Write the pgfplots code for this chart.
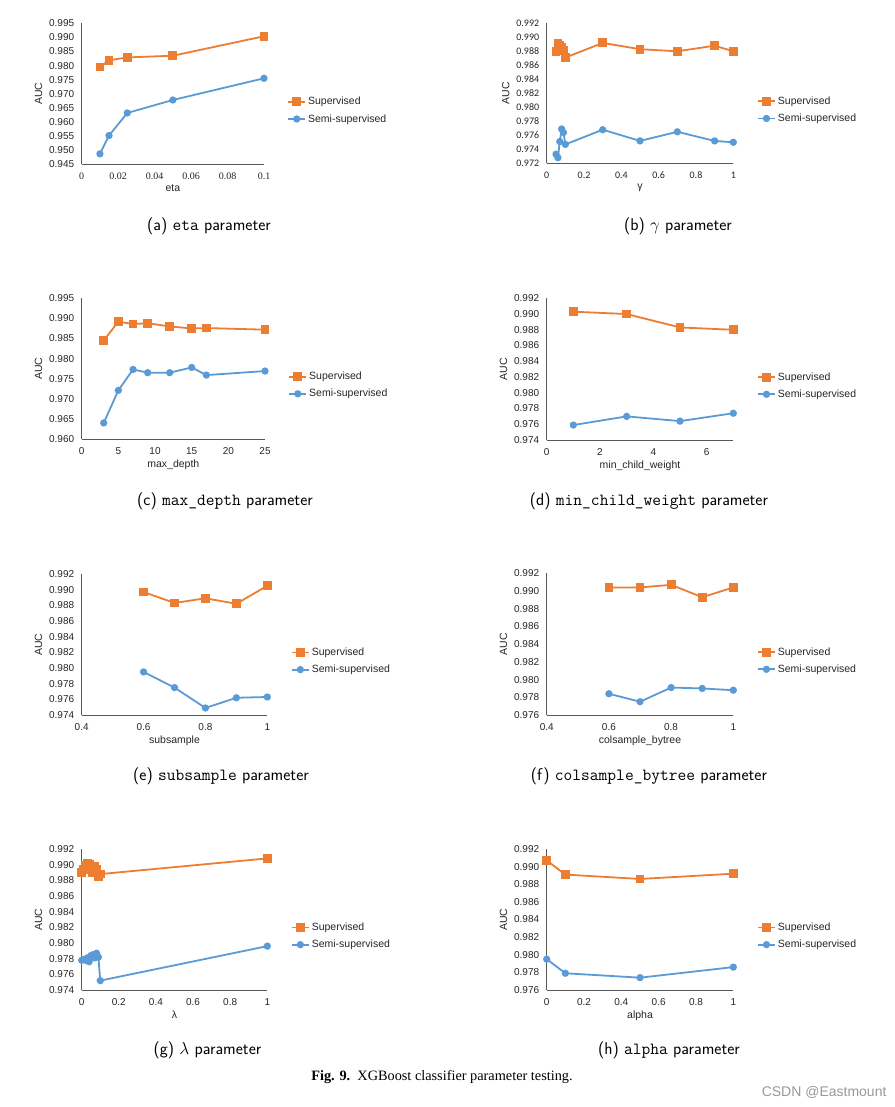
\documentclass[border=0pt]{standalone}
\usepackage{fontspec}
\setmainfont{Liberation Sans}
\newfontfamily\carlito{Carlito}
\newfontfamily\libserif{Liberation Serif}
\usepackage{pgfplots}
\pgfplotsset{compat=1.18}
\definecolor{sup}{HTML}{ED7D31}
\definecolor{semi}{HTML}{5B9BD5}
\definecolor{axgray}{HTML}{595959}
\pgfplotsset{
  panel/.style={
    scale only axis,
    axis x line*=bottom, axis y line*=left,
    axis line style={draw=axgray, line width=0.8pt},
    major tick length=0pt,
    tick style={draw=none},
    /pgf/number format/assume math mode=true,
    ticklabel style={font=\fontsize{10}{12}\selectfont, text=black!85},
    yticklabel style={xshift=-4pt},
    xticklabel style={yshift=-5pt},
    xlabel style={font=\fontsize{10.5}{12}\selectfont, text=black!85, yshift=2pt},
    ylabel style={font=\fontsize{10.5}{12}\selectfont, text=black!85},
    ylabel={AUC},
    legend style={draw=none, fill=none, font=\fontsize{10.5}{12}\selectfont, at={(1.11,0.505)}, anchor=north west, row sep=4pt, text=black!85},
    legend cell align=left,
    clip=false,
  },
  supp/.style={color=sup, line width=1.8pt, mark=square*, mark size=3.5pt, mark options={solid}},
  semp/.style={color=semi, line width=1.8pt, mark=*, mark size=2.7pt, mark options={solid}},
}
\begin{document}
\begin{tikzpicture}
\useasboundingbox (0,0) rectangle (894pt,-1107pt);
\fill[white] (0,0) rectangle (894pt,-1107pt);
% (a) eta
\begin{axis}[panel, at={(81.7pt,-164.3pt)}, anchor=south west, width=182.3pt, height=141pt,
  xmin=0, xmax=0.1, ymin=0.945, ymax=0.995,
  xtick={0,0.02,0.04,0.06,0.08,0.1}, xticklabels={0,0.02,0.04,0.06,0.08,0.1},
  xticklabel style={font=\libserif\fontsize{10}{12}\selectfont},
  ytick={0.945,0.95,0.955,0.96,0.965,0.97,0.975,0.98,0.985,0.99,0.995},
  yticklabels={0.945,0.950,0.955,0.960,0.965,0.970,0.975,0.980,0.985,0.990,0.995},
  xlabel={eta}]
\addplot[supp] coordinates {(0.01,0.9795)(0.015,0.9819)(0.025,0.9829)(0.05,0.9835)(0.1,0.9904)};
\addplot[semp] coordinates {(0.01,0.9487)(0.015,0.9552)(0.025,0.9632)(0.05,0.9678)(0.1,0.9755)};
\legend{Supervised,Semi-supervised}
\end{axis}
% (b) gamma
\begin{axis}[panel, at={(546.7pt,-163.3pt)}, anchor=south west, width=186.6pt, height=140pt,
  xmin=0, xmax=1, ymin=0.972, ymax=0.992,
  ticklabel style={font=\carlito\fontsize{10}{12}\selectfont},
  xtick={0,0.2,0.4,0.6,0.8,1}, xticklabels={0,0.2,0.4,0.6,0.8,1},
  ytick={0.972,0.974,0.976,0.978,0.98,0.982,0.984,0.986,0.988,0.99,0.992},
  yticklabels={0.972,0.974,0.976,0.978,0.980,0.982,0.984,0.986,0.988,0.990,0.992},
  xlabel={γ}]
\addplot[supp] coordinates {(0.05,0.9880)(0.06,0.9891)(0.07,0.9889)(0.08,0.9886)(0.09,0.9881)(0.1,0.9871)(0.3,0.9892)(0.5,0.9883)(0.7,0.9880)(0.9,0.9888)(1,0.9880)};
\addplot[semp] coordinates {(0.05,0.9733)(0.06,0.9728)(0.07,0.9751)(0.08,0.9769)(0.09,0.9764)(0.1,0.9747)(0.3,0.9768)(0.5,0.9752)(0.7,0.9765)(0.9,0.9752)(1,0.9750)};
\legend{Supervised,Semi-supervised}
\end{axis}
% (c) max_depth
\begin{axis}[panel, at={(81.7pt,-439pt)}, anchor=south west, width=183.3pt, height=140.7pt,
  xmin=0, xmax=25, ymin=0.96, ymax=0.995,
  xtick={0,5,10,15,20,25}, xticklabels={0,5,10,15,20,25},
  ytick={0.96,0.965,0.97,0.975,0.98,0.985,0.99,0.995},
  yticklabels={0.960,0.965,0.970,0.975,0.980,0.985,0.990,0.995},
  xlabel={max\_depth}]
\addplot[supp] coordinates {(3,0.9845)(5,0.9892)(7,0.9886)(9,0.9888)(12,0.9880)(15,0.9875)(17,0.9876)(25,0.9872)};
\addplot[semp] coordinates {(3,0.9640)(5,0.9721)(7,0.9773)(9,0.9765)(12,0.9765)(15,0.9778)(17,0.9759)(25,0.9769)};
\legend{Supervised,Semi-supervised}
\end{axis}
% (d) min_child_weight
\begin{axis}[panel, at={(546.7pt,-440pt)}, anchor=south west, width=186.6pt, height=141.7pt,
  xmin=0, xmax=7, ymin=0.974, ymax=0.992,
  xtick={0,2,4,6}, xticklabels={0,2,4,6},
  ytick={0.974,0.976,0.978,0.98,0.982,0.984,0.986,0.988,0.99,0.992},
  yticklabels={0.974,0.976,0.978,0.980,0.982,0.984,0.986,0.988,0.990,0.992},
  xlabel={min\_child\_weight}]
\addplot[supp] coordinates {(1,0.9903)(3,0.9900)(5,0.9883)(7,0.9880)};
\addplot[semp] coordinates {(1,0.9759)(3,0.9770)(5,0.9764)(7,0.9774)};
\legend{Supervised,Semi-supervised}
\end{axis}
% (e) subsample
\begin{axis}[panel, at={(81.7pt,-715pt)}, anchor=south west, width=185.6pt, height=141pt,
  xmin=0.4, xmax=1, ymin=0.974, ymax=0.992,
  xtick={0.4,0.6,0.8,1}, xticklabels={0.4,0.6,0.8,1},
  ytick={0.974,0.976,0.978,0.98,0.982,0.984,0.986,0.988,0.99,0.992},
  yticklabels={0.974,0.976,0.978,0.980,0.982,0.984,0.986,0.988,0.990,0.992},
  xlabel={subsample}]
\addplot[supp] coordinates {(0.6,0.9897)(0.7,0.9883)(0.8,0.9889)(0.9,0.9882)(1,0.9905)};
\addplot[semp] coordinates {(0.6,0.9795)(0.7,0.9775)(0.8,0.9749)(0.9,0.9762)(1,0.9763)};
\legend{Supervised,Semi-supervised}
\end{axis}
% (f) colsample_bytree
\begin{axis}[panel, at={(546.7pt,-715pt)}, anchor=south west, width=186.6pt, height=141.7pt,
  xmin=0.4, xmax=1, ymin=0.976, ymax=0.992,
  xtick={0.4,0.6,0.8,1}, xticklabels={0.4,0.6,0.8,1},
  ytick={0.976,0.978,0.98,0.982,0.984,0.986,0.988,0.99,0.992},
  yticklabels={0.976,0.978,0.980,0.982,0.984,0.986,0.988,0.990,0.992},
  xlabel={colsample\_bytree}]
\addplot[supp] coordinates {(0.6,0.9904)(0.7,0.9904)(0.8,0.9907)(0.9,0.9893)(1,0.9904)};
\addplot[semp] coordinates {(0.6,0.9784)(0.7,0.9775)(0.8,0.9791)(0.9,0.9790)(1,0.9788)};
\legend{Supervised,Semi-supervised}
\end{axis}
% (g) lambda
\begin{axis}[panel, at={(81.7pt,-990pt)}, anchor=south west, width=185.6pt, height=141pt,
  xmin=0, xmax=1, ymin=0.974, ymax=0.992,
  xtick={0,0.2,0.4,0.6,0.8,1}, xticklabels={0,0.2,0.4,0.6,0.8,1},
  ytick={0.974,0.976,0.978,0.98,0.982,0.984,0.986,0.988,0.99,0.992},
  yticklabels={0.974,0.976,0.978,0.980,0.982,0.984,0.986,0.988,0.990,0.992},
  xlabel={λ}]
\addplot[supp] coordinates {(0,0.9890)(0.01,0.9894)(0.02,0.9899)(0.03,0.9901)(0.04,0.9900)(0.05,0.9897)(0.06,0.9890)(0.07,0.9898)(0.08,0.9894)(0.09,0.9885)(0.1,0.9888)(1,0.9908)};
\addplot[semp] coordinates {(0,0.9778)(0.01,0.9779)(0.02,0.9778)(0.03,0.9781)(0.04,0.9776)(0.05,0.9784)(0.06,0.9785)(0.07,0.9781)(0.08,0.9787)(0.09,0.9782)(0.1,0.9752)(1,0.9796)};
\legend{Supervised,Semi-supervised}
\end{axis}
% (h) alpha
\begin{axis}[panel, at={(546.7pt,-990pt)}, anchor=south west, width=186.6pt, height=141pt,
  xmin=0, xmax=1, ymin=0.976, ymax=0.992,
  xtick={0,0.2,0.4,0.6,0.8,1}, xticklabels={0,0.2,0.4,0.6,0.8,1},
  ytick={0.976,0.978,0.98,0.982,0.984,0.986,0.988,0.99,0.992},
  yticklabels={0.976,0.978,0.980,0.982,0.984,0.986,0.988,0.990,0.992},
  xlabel={alpha}]
\addplot[supp] coordinates {(0,0.9907)(0.1,0.9891)(0.5,0.9886)(1,0.9892)};
\addplot[semp] coordinates {(0,0.9795)(0.1,0.9779)(0.5,0.9774)(1,0.9786)};
\legend{Supervised,Semi-supervised}
\end{axis}
% captions
\begin{scope}[every node/.style={font=\sffamily\fontsize{17}{20}\selectfont}]
\node at (209pt,-226pt) {(a) \texttt{eta} parameter};
\node at (678pt,-226pt) {(b) $\gamma$ parameter};
\node at (225pt,-501pt) {(c) \texttt{max\_depth} parameter};
\node at (649pt,-501pt) {(d) \texttt{min\_child\_weight} parameter};
\node at (221pt,-776pt) {(e) \texttt{subsample} parameter};
\node at (649pt,-776pt) {(f) \texttt{colsample\_bytree} parameter};
\node at (207.5pt,-1050pt) {(g) $\lambda$ parameter};
\node at (669pt,-1050pt) {(h) \texttt{alpha} parameter};
\end{scope}
\node[font=\libserif\fontsize{14.3}{17}\selectfont] at (442pt,-1077pt) {\textbf{Fig. 9.}\enspace XGBoost classifier parameter testing.};
\node[font=\fontsize{14}{16}\selectfont, text=black!40, anchor=east] at (890pt,-1092pt) {CSDN @Eastmount};
\end{tikzpicture}
\end{document}
